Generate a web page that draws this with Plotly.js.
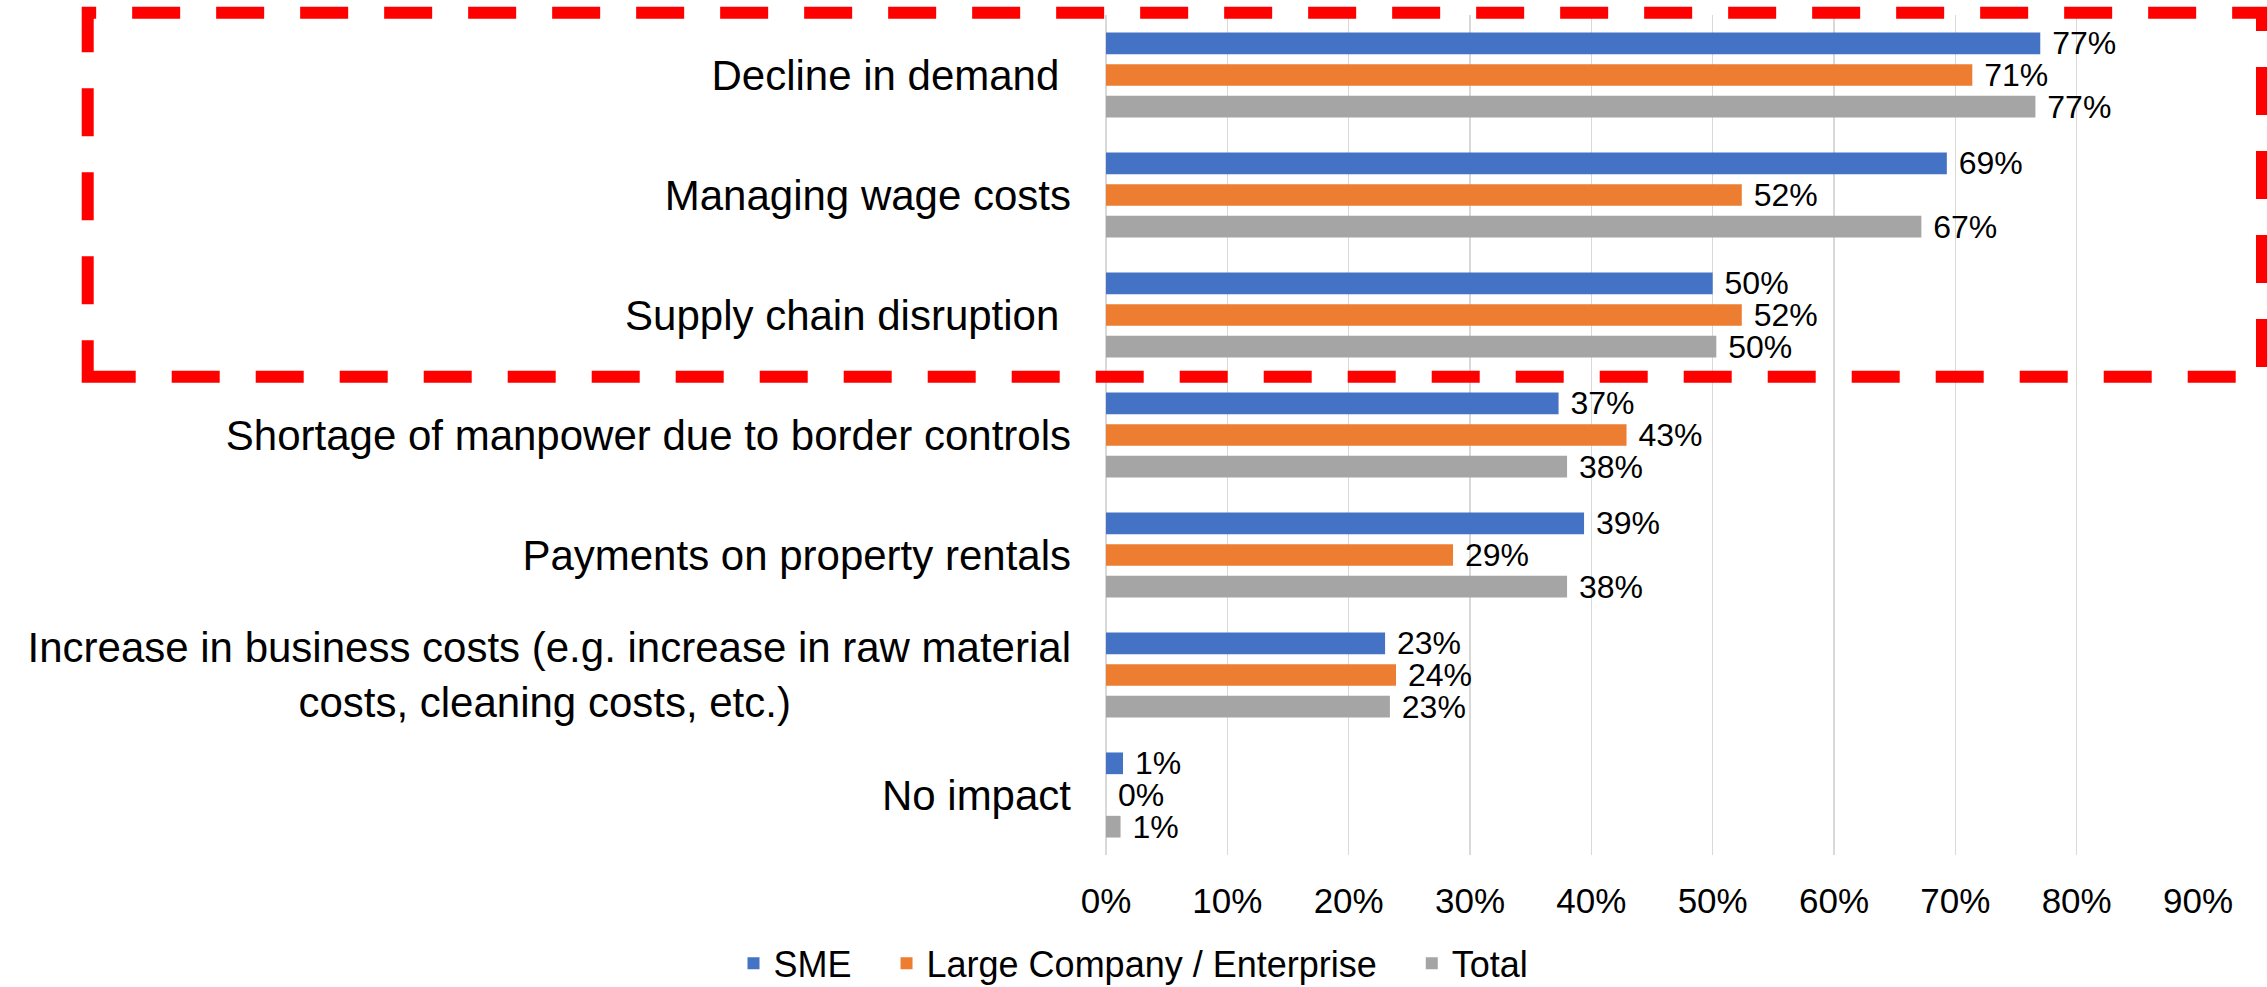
<!DOCTYPE html>
<html>
<head>
<meta charset="utf-8">
<script src="https://cdn.plot.ly/plotly-3.0.1.min.js"></script>
<style>html,body{margin:0;padding:0;background:#fff;}#chart{width:2267px;height:987px;}</style>
</head>
<body>
<div id="chart"></div>
<script>
const NB = "\u00a0";
const categories = [
  "Decline in demand" + NB,
  "Managing wage costs",
  "Supply chain disruption" + NB,
  "Shortage of manpower due to border controls",
  "Payments on property rentals",
  "Increase in business costs (e.g. increase in raw material<br>costs, cleaning costs, etc.)" + NB.repeat(24),
  "No impact"
];
const seriesNames = ["SME" + NB.repeat(3), "Large Company / Enterprise" + NB.repeat(3), "Total"];
const smeValues   = [0.770, 0.693, 0.500, 0.373, 0.394, 0.230, 0.014];
const largeValues = [0.714, 0.524, 0.524, 0.429, 0.286, 0.239, 0.000];
const totalValues = [0.766, 0.672, 0.503, 0.380, 0.380, 0.234, 0.012];
const colors = ["#4472C4", "#ED7D31", "#A5A5A5"];
const xTickVals = [0, 0.1, 0.2, 0.3, 0.4, 0.5, 0.6, 0.7, 0.8, 0.9];
const xTickText = ["0%", "10%", "20%", "30%", "40%", "50%", "60%", "70%", "80%", "90%"];

const font = "Liberation Sans, Arial, sans-serif";
const allValues = [smeValues, largeValues, totalValues];
const traces = allValues.map((vals, i) => ({
  type: "bar",
  orientation: "h",
  name: seriesNames[i],
  y: categories,
  x: vals,
  marker: {color: colors[i]},
  text: vals.map(v => NB + Math.round(v * 100) + "%"),
  textposition: "outside",
  textfont: {family: font, size: 32, color: "#000"},
  constraintext: "none",
  cliponaxis: false,
  hoverinfo: "x+name"
}));

const layout = {
  width: 2267, height: 987,
  margin: {l: 1106, r: 69, t: 15, b: 132},
  paper_bgcolor: "#fff", plot_bgcolor: "#fff",
  barmode: "group",
  bargap: 0.208,
  bargroupgap: 0.315,
  font: {family: font, color: "#000"},
  xaxis: {
    range: [0, 0.9],
    tickvals: xTickVals, ticktext: xTickText,
    tickfont: {family: font, size: 35, color: "#000"},
    showgrid: true, gridcolor: "#D9D9D9", gridwidth: 1.5,
    zeroline: true, zerolinecolor: "#D9D9D9", zerolinewidth: 1.5,
    showline: false, ticks: "", ticklabelstandoff: 22,
    fixedrange: true
  },
  yaxis: {
    type: "category",
    categoryorder: "array", categoryarray: categories,
    range: [6.5, -0.5],
    tickfont: {family: font, size: 42, color: "#000"},
    showgrid: false, showline: false, zeroline: false,
    ticks: "", ticklabelstandoff: 34,
    fixedrange: true
  },
  legend: {
    orientation: "h",
    xref: "container", yref: "container",
    x: 0.5, xanchor: "center", y: 0.024, yanchor: "middle",
    font: {family: font, size: 36, color: "#000"},
    traceorder: "normal"
  },
  shapes: [{
    type: "rect", layer: "above",
    xref: "paper", yref: "paper",
    x0: -0.9325, x1: 1.0586, y0: 0.5694, y1: 1.0026,
    line: {color: "#FF0000", width: 12, dash: "48px,36px"},
    fillcolor: "rgba(0,0,0,0)"
  }],
  showlegend: true
};

Plotly.newPlot("chart", traces, layout, {displayModeBar: false, staticPlot: true});
</script>
</body>
</html>
